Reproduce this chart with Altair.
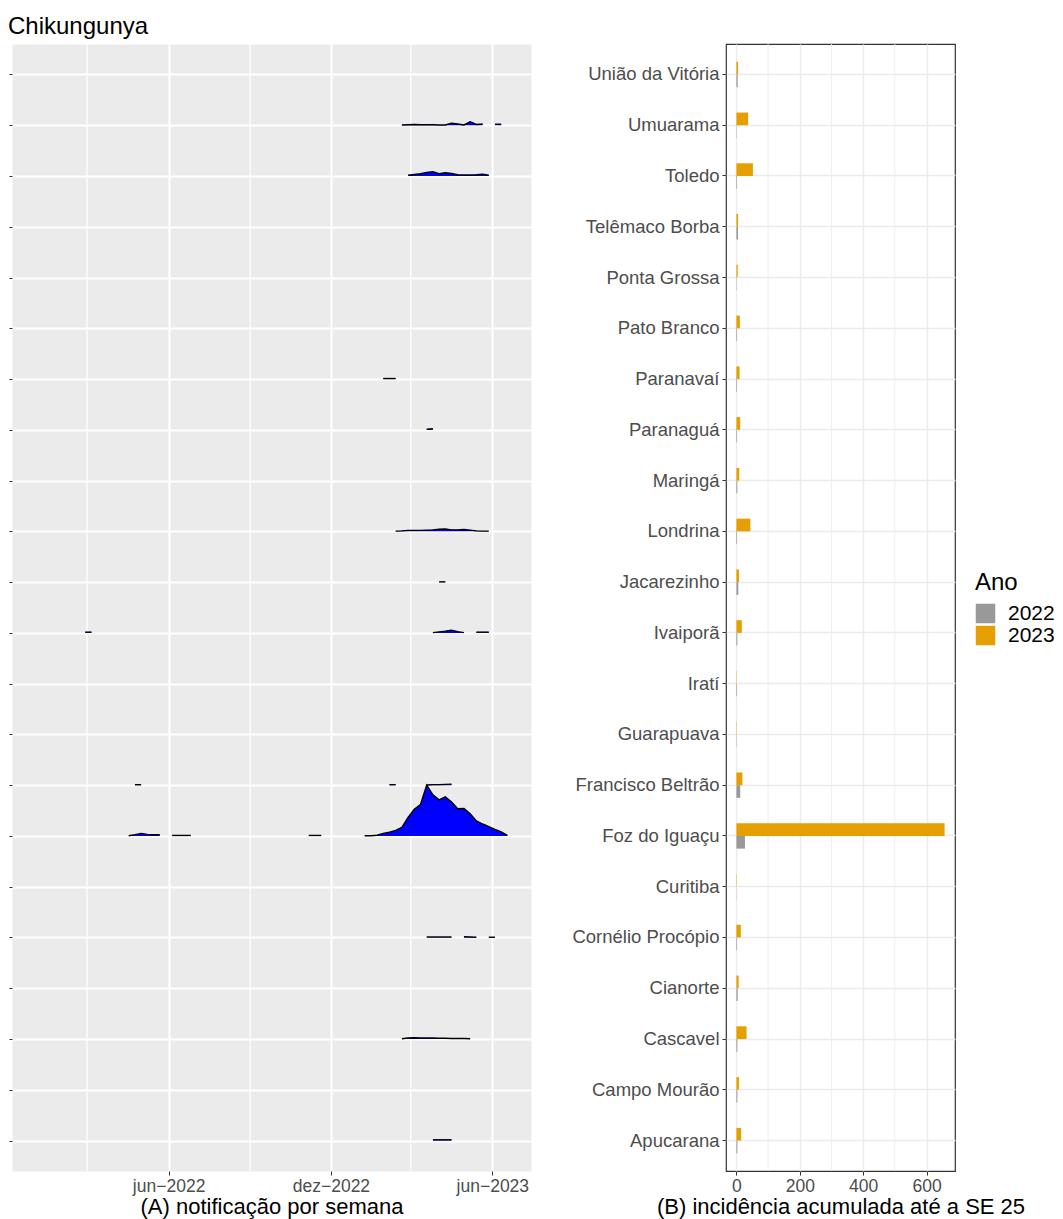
import altair as alt
import pandas as pd

# ---------------- data ----------------
REGIONS = ["União da Vitória", "Umuarama", "Toledo", "Telêmaco Borba", "Ponta Grossa",
           "Pato Branco", "Paranavaí", "Paranaguá", "Maringá", "Londrina", "Jacarezinho",
           "Ivaiporã", "Iratí", "Guarapuava", "Francisco Beltrão", "Foz do Iguaçu",
           "Curitiba", "Cornélio Procópio", "Cianorte", "Cascavel", "Campo Mourão", "Apucarana"]

INC_2022 = [4, 1, 2, 5, 1, 2, 2, 2, 3, 2, 6, 3, 2, 1, 12, 27, 0.5, 2, 4, 3, 3, 3]
INC_2023 = [5, 37, 52, 5, 4, 11, 10, 12, 9, 44, 8, 17, 1, 1, 19, 657, 1, 14, 7, 32, 8, 15]

# weekly notifications: (first epi-week start, weekly counts) per region
UMUARAMA = [("2023-02-19", [1, 2, 3, 2, 2, 2, 1, 1, 8, 5, 1, 14, 3, 5]),
            ("2023-06-04", [4, 4])]
TOLEDO = [("2023-02-26", [3, 6, 9, 14, 17, 9, 13, 10, 5, 4, 4, 5, 7, 3])]
PARANAVAI = [("2023-01-29", [2, 2, 2])]
PARANAGUA = [("2023-03-19", [2, 4])]
LONDRINA = [("2023-02-12", [1, 2, 4, 4, 4, 5, 6, 8, 9, 6, 6, 7, 5, 2, 1, 1])]
JACAREZINHO = [("2023-04-02", [1, 1])]
IVAIPORA = [("2022-02-27", [3, 3]),
            ("2023-03-26", [1, 4, 7, 11, 5, 1]),
            ("2023-05-14", [3, 3, 3])]
FRANCISCO_BELTRAO = [("2022-04-24", [2, 2]),
                     ("2023-02-05", [2, 2]),
                     ("2023-03-19", [1, 2, 2, 3, 4])]
FOZ = [("2022-04-17", [1, 5, 10, 6, 5, 5]),
       ("2022-06-05", [2, 2, 2, 2]),
       ("2022-11-06", [2, 2, 2]),
       ("2023-01-08", [1, 1, 3, 10, 15, 22, 34, 73, 105, 124, 200, 162, 142, 154, 134,
                       107, 108, 87, 59, 47, 37, 26, 16, 2])]
CORNELIO = [("2023-03-19", [2, 2, 2, 2, 2]),
            ("2023-04-30", [3, 2, 1]),
            ("2023-05-28", [1, 1])]
CASCAVEL = [("2023-02-19", [1, 4, 5, 4, 4, 4, 3, 3, 2, 2, 2, 1])]
APUCARANA = [("2023-03-26", [3, 3, 3, 3])]

RIDGES = {
    "Umuarama": UMUARAMA, "Toledo": TOLEDO, "Paranavaí": PARANAVAI, "Paranaguá": PARANAGUA,
    "Londrina": LONDRINA, "Jacarezinho": JACAREZINHO, "Ivaiporã": IVAIPORA,
    "Francisco Beltrão": FRANCISCO_BELTRAO, "Foz do Iguaçu": FOZ,
    "Cornélio Procópio": CORNELIO, "Cascavel": CASCAVEL, "Apucarana": APUCARANA,
}

MONTHS_PT = ["jan", "fev", "mar", "abr", "mai", "jun", "jul", "ago", "set", "out", "nov", "dez"]
MAJOR_DATES = ["2022-06-01", "2022-12-01", "2023-06-01"]
MINOR_DATES = ["2022-03-01", "2022-09-01", "2023-03-01"]
X_TICKS = [0, 200, 400, 600]
X_MINOR = [100, 300, 500]

FONT = "Liberation Sans"

# ---------------- tables ----------------
rows = []
seg_id = 0
n = len(REGIONS)
for region, segs in RIDGES.items():
    base = n - 1 - REGIONS.index(region)
    for start, counts in segs:
        dates = pd.date_range(start, periods=len(counts), freq="7D")
        for d, c in zip(dates, counts):
            rows.append({"region": region, "seg": seg_id, "date": d, "count": c, "base": base})
        seg_id += 1
ridge = pd.DataFrame(rows)
maxc = ridge["count"].max()
ridge["top"] = ridge["base"] + ridge["count"] / maxc

minor_df = pd.DataFrame({"date": pd.to_datetime(MINOR_DATES)})

bars = pd.DataFrame({
    "region": REGIONS * 2,
    "ano": ["2022"] * n + ["2023"] * n,
    "inc": INC_2022 + INC_2023,
})
minor_bar_df = pd.DataFrame({"inc": X_MINOR})

# ---------------- left panel ----------------
def dt(s):
    t = pd.Timestamp(s)
    return alt.DateTime(year=t.year, month=t.month, date=t.day, hours=t.hour, minutes=t.minute)

x_scale = alt.Scale(domain=[dt("2021-12-06 09:36"), dt("2023-07-14 14:24")], nice=False)
month_arr = "[" + ",".join("'%s'" % m for m in MONTHS_PT) + "]"
x_axis = alt.Axis(
    values=[dt(d) for d in MAJOR_DATES],
    labelExpr=month_arr + "[month(datum.value)] + '−' + year(datum.value)",
    grid=True, gridColor="white", gridWidth=2,
    tickColor="#333333", tickSize=4, tickWidth=1, domain=False,
    labelColor="#4D4D4D", labelFontSize=17.5, labelPadding=2, labelFlush=False, labelFont=FONT,
    title="(A) notificação por semana", titleFontSize=22, titleFontWeight="normal",
    titleColor="black", titlePadding=2, titleFont=FONT,
)
y_scale = alt.Scale(domain=[-0.6, n - 1 + 0.6], nice=False, zero=False)
y_axis = alt.Axis(values=list(range(n)), labels=False, tickSize=3, tickColor="#333333",
                  tickWidth=1, domain=False, grid=True, gridColor="white", gridWidth=2,
                  title=None, minExtent=0)

X_left = alt.X("date:T", scale=x_scale, axis=x_axis)
Y_left = alt.Y("top:Q", scale=y_scale, axis=y_axis)

minor_rules = alt.Chart(minor_df).mark_rule(color="white", strokeWidth=1.2).encode(x=X_left)
area = alt.Chart(ridge).mark_area(color="#0000FF", opacity=1, interpolate="linear").encode(
    x=X_left, y=Y_left, y2="base:Q", detail="seg:N")
line = alt.Chart(ridge).mark_line(color="black", strokeWidth=1.4, interpolate="linear").encode(
    x=X_left, y=Y_left, detail="seg:N")

left = alt.layer(minor_rules, area, line).properties(
    width=519, height=1127,
    view=alt.ViewBackground(fill="#EBEBEB", stroke="transparent"),
)

# ---------------- right panel ----------------
xr_scale = alt.Scale(domain=[-32.85, 689.85], nice=False, zero=False)
xr_axis = alt.Axis(values=X_TICKS, grid=True, gridColor="#EBEBEB", gridWidth=1.4,
                   tickColor="#333333", tickSize=4, tickWidth=1, domain=False,
                   labelColor="#4D4D4D", labelFontSize=17.5, labelPadding=2, labelFlush=False,
                   labelFont=FONT,
                   title="(B) incidência acumulada até a SE 25", titleFontSize=22,
                   titleFontWeight="normal", titleColor="black", titlePadding=2, titleFont=FONT)
X_right = alt.X("inc:Q", scale=xr_scale, axis=xr_axis, stack=False)

minor_bar_rules = alt.Chart(minor_bar_df).mark_rule(color="#EBEBEB", strokeWidth=0.8).encode(
    x=X_right)

bar = alt.Chart(bars).mark_bar(opacity=1).encode(
    x=X_right,
    y=alt.Y("region:N", sort=REGIONS,
            scale=alt.Scale(paddingInner=0.5, paddingOuter=0.35),
            axis=alt.Axis(grid=True, gridColor="#EBEBEB", gridWidth=1.4, bandPosition=0.5,
                          tickColor="#333333", tickSize=4, tickWidth=1, domain=False,
                          labelColor="#4D4D4D", labelFontSize=18.5, labelPadding=3,
                          labelFont=FONT, title=None, minExtent=193, maxExtent=193)),
    yOffset=alt.YOffset("ano:N", scale=alt.Scale(domain=["2023", "2022"],
                                                   paddingInner=0, paddingOuter=0)),
    color=alt.Color("ano:N",
                    scale=alt.Scale(domain=["2022", "2023"], range=["#999999", "#E69F00"]),
                    legend=alt.Legend(title="Ano", orient="none", legendX=963, legendY=527,
                                      titleFontSize=24, titleFontWeight="normal",
                                      titleColor="black", titleFont=FONT, titlePadding=8,
                                      labelFontSize=21, labelColor="black", labelFont=FONT,
                                      labelOffset=12, symbolType="square", symbolSize=380,
                                      symbolStrokeWidth=0, rowPadding=0)),
)

right = alt.layer(minor_bar_rules, bar).properties(
    width=229, height=1127,
    view=alt.ViewBackground(fill="white", stroke="#333333", strokeWidth=1.2),
)

chart = alt.hconcat(left, right, spacing=0).properties(
    title=alt.Title("Chikungunya", anchor="start", fontSize=24, fontWeight="normal",
                    color="black", font=FONT, offset=4),
    padding={"left": 0, "top": 6, "right": 0, "bottom": 0},
).configure(font=FONT)

chart.save("out.html", embed_options={"renderer": "svg", "actions": False})
